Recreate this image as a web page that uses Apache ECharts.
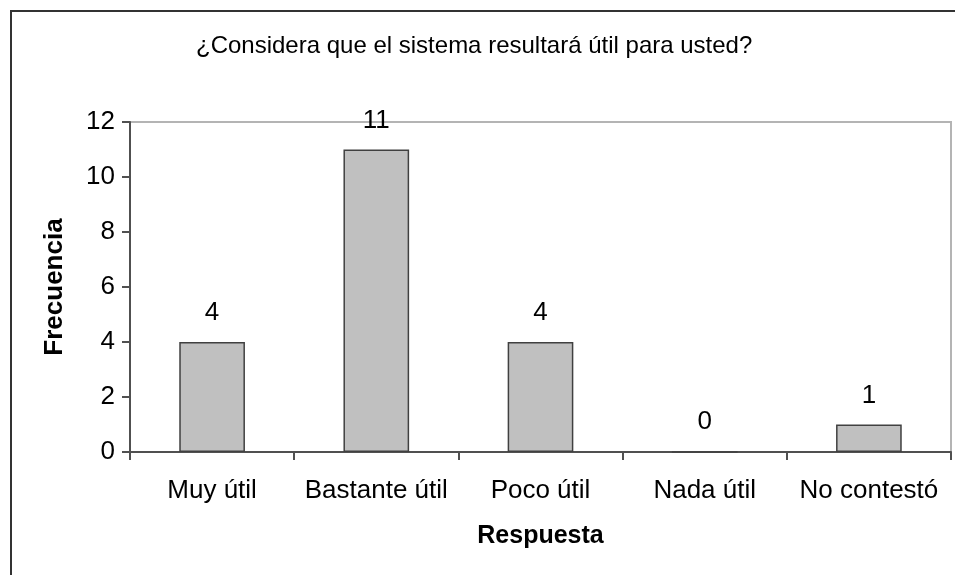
<!DOCTYPE html>
<html>
<head>
<meta charset="utf-8">
<script src="https://cdn.jsdelivr.net/npm/echarts@6/dist/echarts.min.js"></script>
<style>
  html, body { margin: 0; padding: 0; background: #fff; }
  #chart { width: 955px; height: 575px; }
</style>
</head>
<body>
<div id="chart"></div>
<script>
// Survey answers and how often each one was given
const categories = ['Muy útil', 'Bastante útil', 'Poco útil', 'Nada útil', 'No contestó'];
const frequencies = [4, 11, 4, 0, 1];
const yTicks = [0, 2, 4, 6, 8, 10, 12];

const chart = echarts.init(document.getElementById('chart'));
const font = '"Liberation Sans", Arial, sans-serif';

chart.setOption({
  animation: false,
  backgroundColor: '#ffffff',
  title: {
    text: '¿Considera que el sistema resultará útil para usted?',
    left: 191,
    top: 29,
    textStyle: { fontFamily: font, fontSize: 24, fontWeight: 'normal', color: '#000' }
  },
  graphic: [{
    type: 'rect',
    shape: { x: 11, y: 11, width: 1000, height: 700 },
    style: { fill: 'none', stroke: '#333', lineWidth: 2 },
    silent: true
  }],
  grid: {
    left: 130, top: 122, width: 821, height: 330,
    show: true, borderColor: '#b4b4b4', borderWidth: 2, backgroundColor: 'transparent'
  },
  xAxis: {
    type: 'category',
    data: categories,
    name: 'Respuesta',
    nameLocation: 'middle',
    nameGap: 72,
    nameTextStyle: { fontFamily: font, fontSize: 25, fontWeight: 'bold', color: '#000' },
    axisLine: { lineStyle: { color: '#505050', width: 2 } },
    axisTick: { show: true, length: 8, alignWithLabel: false, lineStyle: { color: '#505050', width: 2 } },
    axisLabel: { fontFamily: font, fontSize: 26, color: '#000', margin: 26, interval: 0 }
  },
  yAxis: {
    type: 'value',
    min: yTicks[0],
    max: yTicks[yTicks.length - 1],
    interval: yTicks[1] - yTicks[0],
    name: 'Frecuencia',
    nameLocation: 'middle',
    nameGap: 62,
    nameTextStyle: { fontFamily: font, fontSize: 26, fontWeight: 'bold', color: '#000' },
    splitLine: { show: false },
    axisLine: { show: true, lineStyle: { color: '#505050', width: 2 } },
    axisTick: { show: true, length: 8, lineStyle: { color: '#505050', width: 2 } },
    axisLabel: { fontFamily: font, fontSize: 26, color: '#000', margin: 15 }
  },
  series: [{
    type: 'bar',
    data: frequencies,
    barWidth: '40%',
    itemStyle: { color: '#c0c0c0', borderColor: '#404040', borderWidth: 1.5 },
    label: {
      show: true,
      position: 'top',
      distance: 16,
      fontFamily: font,
      fontSize: 26,
      color: '#000'
    }
  }]
});
</script>
</body>
</html>
